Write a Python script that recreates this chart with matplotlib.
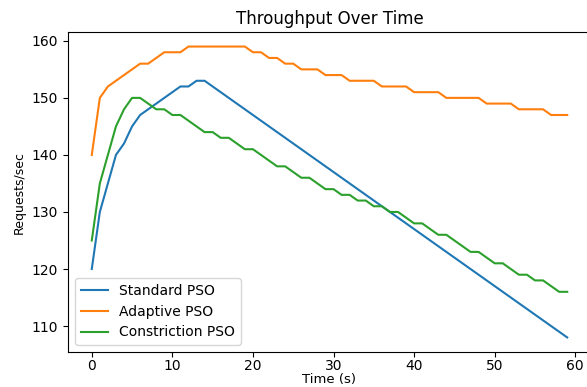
import matplotlib
matplotlib.use('Agg')
import matplotlib.pyplot as plt
import numpy as np

# Time steps (s)
time_s = list(range(60))

# Requests/sec per PSO variant
standard_pso = [120, 130, 135, 140, 142, 145, 147, 148, 149, 150,
                151, 152, 152, 153, 153, 152, 151, 150, 149, 148,
                147, 146, 145, 144, 143, 142, 141, 140, 139, 138,
                137, 136, 135, 134, 133, 132, 131, 130, 129, 128,
                127, 126, 125, 124, 123, 122, 121, 120, 119, 118,
                117, 116, 115, 114, 113, 112, 111, 110, 109, 108]

adaptive_pso = [140, 150, 152, 153, 154, 155, 156, 156, 157, 158,
                158, 158, 159, 159, 159, 159, 159, 159, 159, 159,
                158, 158, 157, 157, 156, 156, 155, 155, 155, 154,
                154, 154, 153, 153, 153, 153, 152, 152, 152, 152,
                151, 151, 151, 151, 150, 150, 150, 150, 150, 149,
                149, 149, 149, 148, 148, 148, 148, 147, 147, 147]

constriction_pso = [125, 135, 140, 145, 148, 150, 150, 149, 148, 148,
                    147, 147, 146, 145, 144, 144, 143, 143, 142, 141,
                    141, 140, 139, 138, 138, 137, 136, 136, 135, 134,
                    134, 133, 133, 132, 132, 131, 131, 130, 130, 129,
                    128, 128, 127, 126, 126, 125, 124, 123, 123, 122,
                    121, 121, 120, 119, 119, 118, 118, 117, 116, 116]

fig = plt.figure(figsize=(5.87, 3.87), dpi=100)
# axes extend a little past the right edge, as in the cropped reference
ax = fig.add_axes([68 / 587, 35 / 387, 523 / 587, 320 / 387])

ax.plot(time_s, standard_pso, label='Standard PSO')
ax.plot(time_s, adaptive_pso, label='Adaptive PSO')
ax.plot(time_s, constriction_pso, label='Constriction PSO')

ax.set_xticks([0, 10, 20, 30, 40, 50, 60])
ax.set_yticks([110, 120, 130, 140, 150, 160])
ax.tick_params(axis='x', pad=1.5)

ax.set_title('Throughput Over Time')
ax.set_xlabel('Time (s)', fontsize=9.5)
# keep the x label inside the canvas
ax.xaxis.set_label_coords(0.5, -0.066)
ax.set_ylabel('Requests/sec', fontsize=9)
ax.legend(loc='lower left')

plt.savefig('out.png', dpi=100)
